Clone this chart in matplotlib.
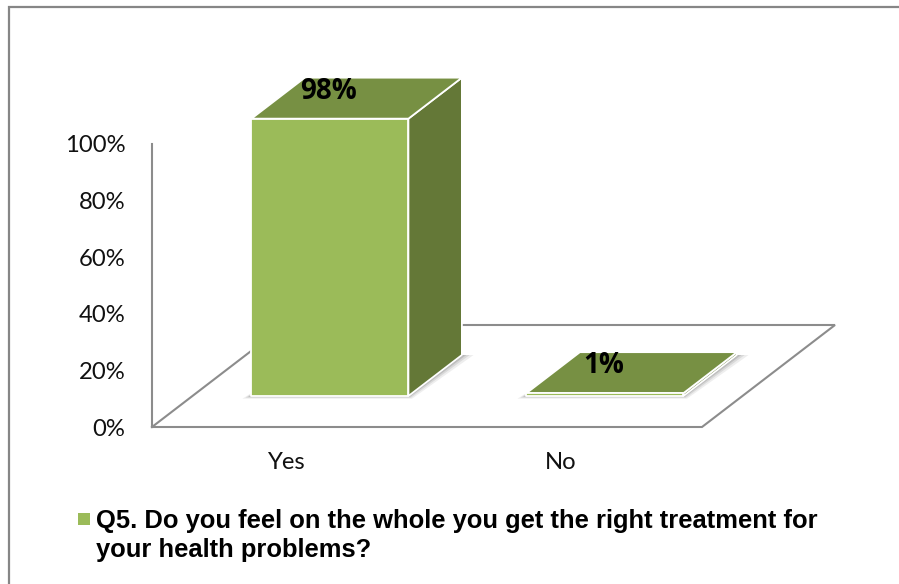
import matplotlib
matplotlib.use('Agg')
import matplotlib.pyplot as plt
from matplotlib.lines import Line2D
from matplotlib.patches import Polygon, Rectangle

categories = ['Yes', 'No']
values = [98, 1]
value_labels = ['98%', '1%']
y_ticks = [0, 20, 40, 60, 80, 100]
legend_text = 'Q5. Do you feel on the whole you get the right treatment for\nyour health problems?'

FRONT = '#9BBB59'
TOP = '#779043'
SIDE = '#647837'
AXIS = '#8c8c8c'

W, H = 899, 584
fig = plt.figure(figsize=(W / 100, H / 100), dpi=100, facecolor='white')
# front plane of the 3d box: 152..702 px across, 427..144 px down
ax = fig.add_axes([152 / W, 1 - 427 / H, 550 / W, 283 / H])
ax.set_xlim(0, 2)
ax.set_ylim(0, 100)
ax.patch.set_visible(False)
for s in ax.spines.values():
    s.set_visible(False)

# one unit of depth moves 133 px right and 102 px up
DEPTH_X = 133 / 275
DEPTH_Y = 102 / 2.83
BAR_W = 157 / 275
D_FRONT = 0.304
D_BACK = 0.706
PX_X = 1 / 275
PX_Y = 1 / 2.83


def proj(x, v, d):
    return (x + d * DEPTH_X, v + d * DEPTH_Y)


def face(points, color, edge='white', lw=1.3, z=3):
    ax.add_patch(Polygon(points, closed=True, facecolor=color, edgecolor=edge,
                         linewidth=lw, joinstyle='round', zorder=z, clip_on=False))


# floor and wall lines
floor = [proj(0, 0, 0), proj(2, 0, 0), proj(2, 0, 1), proj(0, 0, 1), proj(0, 0, 0)]
ax.plot(*zip(*floor), color=AXIS, lw=1.5, zorder=1, clip_on=False, solid_joinstyle='miter')
ax.plot([0, 0], [0, 100], color=AXIS, lw=1.5, zorder=1, clip_on=False)

ax.set_yticks(y_ticks)
ax.set_yticklabels(['%d%%' % t for t in y_ticks], fontsize=17.2, family='Lato', color='#111111')
ax.set_xticks([i + 0.4855 for i in range(len(categories))])
ax.set_xticklabels(categories, fontsize=17.2, family='Lato', color='#111111')
ax.tick_params(axis='both', length=0)
ax.tick_params(axis='y', pad=19)
ax.tick_params(axis='x', pad=18)

for i, (v, lab) in enumerate(zip(values, value_labels)):
    x0 = i + 0.5 - BAR_W / 2
    x1 = x0 + BAR_W
    # soft shadow: footprint of the bar spread out in a few faint layers
    for grow, alpha in zip([9, 6, 3.5, 1.5], [0.10, 0.14, 0.20, 0.28]):
        gx, gy = grow * PX_X, grow * 0.3 * PX_Y
        shadow = [proj(x0 - gx, -gy, D_FRONT), proj(x1 + gx * 0.4, -gy, D_FRONT),
                  proj(x1 + gx * 1.3, 0, D_BACK), proj(x0 + gx * 0.8, 0, D_BACK)]
        ax.add_patch(Polygon(shadow, closed=True, facecolor='#5a5a5a', edgecolor='none',
                             alpha=alpha, zorder=2, clip_on=False))
    face([proj(x1, 0, D_FRONT), proj(x1, 0, D_BACK), proj(x1, v, D_BACK), proj(x1, v, D_FRONT)], SIDE)
    face([proj(x0, v, D_FRONT), proj(x1, v, D_FRONT), proj(x1, v, D_BACK), proj(x0, v, D_BACK)], TOP)
    face([proj(x0, 0, D_FRONT), proj(x1, 0, D_FRONT), proj(x1, v, D_FRONT), proj(x0, v, D_FRONT)], FRONT)
    lx = proj(x0 + BAR_W / 2, v, D_FRONT)[0] - 1.5 * PX_X
    ly = proj(x0, v, D_BACK - 0.135)[1]
    ax.text(lx, ly, lab, fontsize=20, fontweight='bold', family='Open Sans',
            ha='center', va='center', color='black', zorder=5)

# legend swatch and label
fig.patches.append(Rectangle((78 / W, 1 - 525 / H), 12 / W, 12 / H, transform=fig.transFigure,
                             facecolor=FRONT, edgecolor='none'))
fig.text(96 / W, 1 - 535.5 / H, legend_text, fontsize=18.4, fontweight='bold',
         family='Liberation Sans', ha='left', va='center', linespacing=1.29, color='black')

# chart area border, only the top and left edges fall inside the frame
fig.add_artist(Line2D([9 / W, 9 / W, 1], [0, 1 - 7 / H, 1 - 7 / H], transform=fig.transFigure,
                      color='#868686', lw=1.6, solid_joinstyle='miter'))

fig.savefig('out.png', dpi=100)
